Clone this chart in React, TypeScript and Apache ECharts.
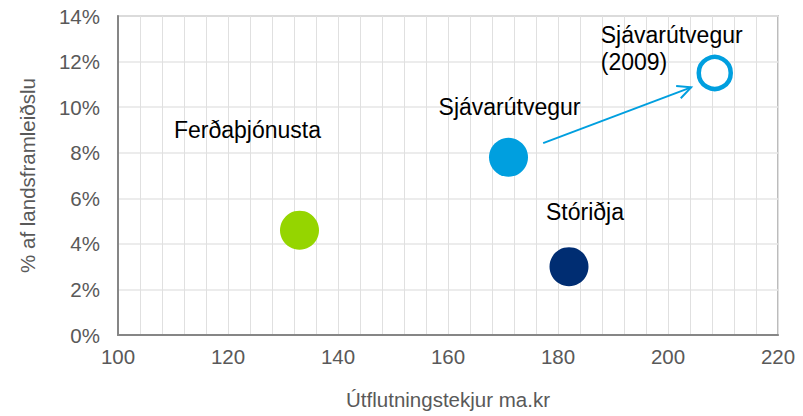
import React, { useEffect, useRef } from "react";
import * as echarts from "echarts";

const xTicks = [100, 220];
const yMax = 0.14;
const names = ["Ferðaþjónusta", "Sjávarútvegur", "Stóriðja", "Sjávarútvegur\n(2009)"];
const exportRevenue = [133, 171, 182, 208.5];
const gdpShare = [0.046, 0.078, 0.030, 0.115];
const colors = ["#95D500", "#009FDF", "#002D72", "#009FDF"];
const arrowFrom = [177.3, 0.0842];
const arrowTo = [204.2, 0.1087];

export default function App() {
  const ref = useRef<HTMLDivElement>(null);
  useEffect(() => {
    const chart = echarts.init(ref.current!, null, { renderer: "svg" });
    const font = "'Liberation Sans', Arial, sans-serif";
    const labelOffsets: any[] = [
      { offset: [-52, -100], align: "center" },
      { offset: [1, -50], align: "center" },
      { offset: [16, -55], align: "center" },
      { offset: [-114, -24], align: "left" },
    ];
    const data = names.map((n, i) => ({
      name: n,
      value: [exportRevenue[i], gdpShare[i]],
      symbolSize: i === 3 ? 32 : 39,
      itemStyle:
        i === 3
          ? { color: "#ffffff", borderColor: colors[i], borderWidth: 4.5, opacity: 1 }
          : { color: colors[i], opacity: 1 },
      label: {
        show: true,
        formatter: n,
        position: "inside",
        offset: labelOffsets[i].offset,
        align: labelOffsets[i].align,
        verticalAlign: "middle",
        color: "#000000",
        fontSize: 23,
        lineHeight: 27,
        fontFamily: font,
      },
    }));
    chart.setOption({
      animation: false,
      grid: {
        left: 118,
        right: 25,
        top: 16,
        bottom: 81,
        show: true,
        borderColor: "#a6a6a6",
        borderWidth: 1.5,
      },
      xAxis: {
        type: "value",
        min: xTicks[0],
        max: xTicks[1],
        interval: 20,
        name: "Útflutningstekjur ma.kr",
        nameLocation: "middle",
        nameGap: 54,
        nameTextStyle: { color: "#595959", fontSize: 20.5, fontFamily: font },
        axisLine: { show: true, lineStyle: { color: "#868686", width: 2 } },
        axisTick: { show: false },
        axisLabel: { color: "#595959", fontSize: 20.5, margin: 11, fontFamily: font },
        splitLine: { show: true, lineStyle: { color: "#e0e0e0", width: 1 } },
        minorTick: { show: false, splitNumber: 5 },
        minorSplitLine: { show: true, lineStyle: { color: "#e0e0e0", width: 1 } },
      },
      yAxis: {
        type: "value",
        min: 0,
        max: yMax,
        interval: 0.02,
        name: "% af landsframleiðslu",
        nameLocation: "middle",
        nameGap: 80,
        nameTextStyle: { color: "#595959", fontSize: 20.5, fontFamily: font },
        axisLine: { show: true, lineStyle: { color: "#868686", width: 2 } },
        axisTick: { show: false },
        axisLabel: {
          color: "#595959",
          fontSize: 20.5,
          margin: 18,
          fontFamily: font,
          formatter: (v: number) => Math.round(v * 100) + "%",
        },
        splitLine: { show: true, lineStyle: { color: "#e6e6e6", width: 1.5 } },
      },
      series: [
        {
          type: "scatter",
          data,
          z: 3,
          emphasis: { disabled: true },
        },
        {
          type: "custom",
          data: [[arrowFrom[0], arrowFrom[1], arrowTo[0], arrowTo[1]]],
          z: 4,
          renderItem: (params: any, api: any) => {
            const p0 = api.coord([api.value(0), api.value(1)]);
            const p1 = api.coord([api.value(2), api.value(3)]);
            const ang = Math.atan2(p1[1] - p0[1], p1[0] - p0[0]);
            const len = 15;
            const spread = 0.45;
            const a1 = [p1[0] - len * Math.cos(ang - spread), p1[1] - len * Math.sin(ang - spread)];
            const a2 = [p1[0] - len * Math.cos(ang + spread), p1[1] - len * Math.sin(ang + spread)];
            const style = { stroke: "#009FDF", lineWidth: 2, fill: "none" };
            return {
              type: "group",
              children: [
                { type: "line", shape: { x1: p0[0], y1: p0[1], x2: p1[0], y2: p1[1] }, style },
                { type: "polyline", shape: { points: [a1, p1, a2] }, style },
              ],
            };
          },
        },
      ],
    });
    return () => chart.dispose();
  }, []);
  return <div ref={ref} style={{ width: 803, height: 416, position: "absolute", left: 0, top: 0 }} />;
}
